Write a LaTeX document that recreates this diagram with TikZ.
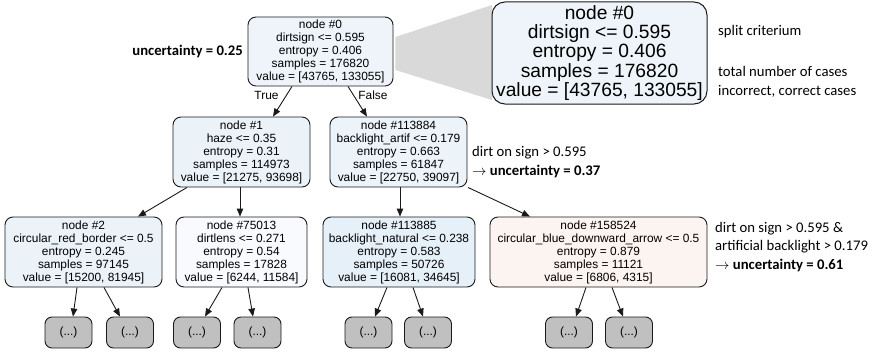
\documentclass[tikz,border=0pt]{standalone}
\usepackage{fontspec}
\setmainfont{Liberation Sans}
\newfontfamily\notefont{Carlito}
\usetikzlibrary{arrows.meta,calc}

\definecolor{fillroot}{HTML}{EEF4F9}
\definecolor{fillone}{HTML}{EBF3F9}
\definecolor{fillmid}{HTML}{ECF3F9}
\definecolor{filllight}{HTML}{F8FAFD}
\definecolor{fillblue}{HTML}{E6F0F9}
\definecolor{fillwarm}{HTML}{FCF4F0}
\definecolor{leafgray}{HTML}{C0C0C0}
\definecolor{funnel}{HTML}{D9D9D9}
\definecolor{edgeline}{HTML}{1A1A1A}

\tikzset{
  treenode/.style={draw=edgeline, line width=0.9pt, rounded corners=8pt,
    align=center, inner sep=0pt, minimum height=70pt,
    font=\fontsize{11.9}{13}\selectfont},
  bignode/.style={draw=edgeline, line width=1pt, rounded corners=13pt,
    align=center, inner sep=0pt, fill=fillroot,
    minimum width=215pt, minimum height=102pt,
    font=\fontsize{19.2}{19.3}\selectfont},
  leaf/.style={draw=edgeline, line width=0.9pt, rounded corners=7pt,
    fill=leafgray, inner sep=0pt, minimum width=47pt, minimum height=31pt,
    font=\fontsize{11.9}{13}\selectfont},
  edge/.style={draw=edgeline, line width=0.9pt,
    -{Triangle[length=8pt,width=6.5pt]}},
  edgelabel/.style={font=\fontsize{11.9}{13}\selectfont, inner sep=0pt},
  note/.style={font=\notefont\fontsize{14.7}{18.8}\selectfont, align=left,
    inner sep=0pt},
}

\begin{document}
\begin{tikzpicture}[x=1pt, y=-1pt]
\useasboundingbox (0,0) rectangle (876,353);

% root node and its enlarged copy
\node[treenode, fill=fillroot, minimum width=145pt, minimum height=69pt] (root) at (320.5,51.5)
  {node \#0\\dirtsign <= 0.595\\entropy = 0.406\\samples = 176820\\value = [43765, 133055]};
\fill[funnel] ($(root.east)+(2,-14.5)$) -- (492,5) -- (492,100) -- ($(root.east)+(2,18.5)$) -- cycle;
\node[bignode] (big) at (599.5,53)
  {node \#0\\dirtsign <= 0.595\\entropy = 0.406\\samples = 176820\\value = [43765, 133055]};

% first level
\node[treenode, fill=fillone, minimum width=137pt] (n1) at (241.5,152)
  {node \#1\\haze <= 0.35\\entropy = 0.31\\samples = 114973\\value = [21275, 93698]};
\node[treenode, fill=fillmid, minimum width=137pt] (n113884) at (398.5,152)
  {node \#113884\\backlight\_artif <= 0.179\\entropy = 0.663\\samples = 61847\\value = [22750, 39097]};

% second level
\node[treenode, fill=fillone, minimum width=157pt] (n2) at (83.5,252)
  {node \#2\\circular\_red\_border <= 0.5\\entropy = 0.245\\samples = 97145\\value = [15200, 81945]};
\node[treenode, fill=filllight, minimum width=131pt] (n75013) at (241.5,252)
  {node \#75013\\dirtlens <= 0.271\\entropy = 0.54\\samples = 17828\\value = [6244, 11584]};
\node[treenode, fill=fillblue, minimum width=152pt] (n113885) at (399,252)
  {node \#113885\\backlight\_natural <= 0.238\\entropy = 0.583\\samples = 50726\\value = [16081, 34645]};
\node[treenode, fill=fillwarm, minimum width=217pt] (n158524) at (598.5,252)
  {node \#158524\\circular\_blue\_downward\_arrow <= 0.5\\entropy = 0.879\\samples = 11121\\value = [6806, 4315]};

% truncated subtrees
\node[leaf] (l1) at (68.5,332.5) {(...)};
\node[leaf] (l2) at (130,332.5) {(...)};
\node[leaf] (l3) at (197,332.5) {(...)};
\node[leaf] (l4) at (257.5,332.5) {(...)};
\node[leaf] (l5) at (368.5,332.5) {(...)};
\node[leaf] (l6) at (428,332.5) {(...)};
\node[leaf] (l7) at (569,332.5) {(...)};
\node[leaf] (l8) at (629,332.5) {(...)};

% edges
\draw[edge] ([xshift=-28.5pt]root.south) -- ([xshift=31.5pt]n1.north);
\draw[edge] ([xshift=27.5pt]root.south) -- ([xshift=-31.5pt]n113884.north);
\node[edgelabel] (ltrue) at (266.5,95) {True};
\node[edgelabel] (lfalse) at (373,95) {False};

\draw[edge] ([xshift=-54.5pt]n1.south) -- ([xshift=54.5pt]n2.north);
\draw[edge] ([xshift=-1.5pt]n1.south) -- ([xshift=-1.5pt]n75013.north);
\draw[edge] ([xshift=1.5pt]n113884.south) -- ([xshift=1pt]n113885.north);
\draw[edge] ([xshift=69.5pt]n113884.south) -- ([xshift=-68.5pt]n158524.north);

\draw[edge] ([xshift=-6.5pt]n2.south) -- ([xshift=4.5pt]l1.north);
\draw[edge] ([xshift=20.5pt]n2.south) -- ([xshift=-10pt]l2.north);
\draw[edge] ([xshift=-19.5pt]n75013.south) -- ([xshift=8pt]l3.north);
\draw[edge] ([xshift=6.5pt]n75013.south) -- ([xshift=-4.5pt]l4.north);
\draw[edge] ([xshift=-12pt]n113885.south) -- ([xshift=6.5pt]l5.north);
\draw[edge] ([xshift=14pt]n113885.south) -- ([xshift=-5pt]l6.north);
\draw[edge] ([xshift=-12.5pt]n158524.south) -- ([xshift=7pt]l7.north);
\draw[edge] ([xshift=13.5pt]n158524.south) -- ([xshift=-6pt]l8.north);

% annotations
\node[note, anchor=east] (u0) at (243,51) {\bfseries uncertainty = 0.25};
\node[note, anchor=west] (split) at (718,32) {split criterium};
\node[note, anchor=west] (cases) at (718,81.5) {total number of cases\\incorrect, correct cases};
\node[note, anchor=west] (u1) at (472,162) {dirt on sign > 0.595\\$\rightarrow$ \textbf{uncertainty = 0.37}};
\node[note, anchor=west] (u2) at (715,247) {dirt on sign > 0.595 \&\\artificial backlight > 0.179\\$\rightarrow$ \textbf{uncertainty = 0.61}};
\end{tikzpicture}
\end{document}
